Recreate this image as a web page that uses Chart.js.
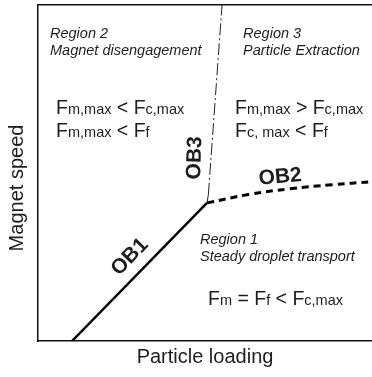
<!DOCTYPE html>
<html>
<head>
<meta charset="utf-8">
<script src="https://cdn.jsdelivr.net/npm/chart.js@4.4.1/dist/chart.umd.min.js"></script>
<style>
  html, body { margin: 0; padding: 0; background: #fff; }
  #wrap { width: 372px; height: 377px; }
</style>
</head>
<body>
<div id="wrap"><canvas id="chart"></canvas></div>
<script>
// operating boundaries, in (particle loading, magnet speed) units 0..10
const ob1X = [1.02, 5.06];
const ob1Y = [0, 4.11];
const ob2X = [5.06, 6.3, 7.54, 8.8, 10];
const ob2Y = [4.11, 4.36, 4.53, 4.65, 4.74];
const ob3X = [5.06, 5.1, 5.51];
const ob3Y = [4.11, 4.35, 10];

const boundaryNames = ['OB1', 'OB2', 'OB3'];
const regionTitles = ['Region 1', 'Region 2', 'Region 3'];
const regionNames = ['Steady droplet transport', 'Magnet disengagement', 'Particle Extraction'];
// _{...} marks the small subscript part
const regionConditions = [
  ['F_{m} = F_{f} < F_{c,max}'],
  ['F_{m,max} < F_{c,max}', 'F_{m,max} < F_{f}'],
  ['F_{m,max} > F_{c,max}', 'F_{c, max} < F_{f}']
];
const xTitle = 'Particle loading';
const yTitle = 'Magnet speed';

const FONT = '"Liberation Sans", Arial, sans-serif';
const TEXT = '#1e1e1e';

// where the labels sit (data units)
const regionLabelPos = [
  { x: 4.85, y: 2.89, condY: 1.07, condX: 5.09 },
  { x: 0.36, y: 9.02, condY: 6.76, condX: 0.54 },
  { x: 6.14, y: 9.02, condY: 6.76, condX: 5.90 }
];
const boundaryLabelPos = [
  { x: 2.75, y: 2.5, rot: -46 },
  { x: 7.25, y: 4.88, rot: -5 },
  { x: 4.70, y: 5.45, rot: -88 }
];

const toPoints = (xs, ys) => xs.map((x, i) => ({ x: x, y: ys[i] }));

function drawRich(ctx, str, x, y, bigPx, subPx) {
  const parts = str.split(/(_\{[^}]*\})/).filter(s => s.length);
  let cx = x;
  parts.forEach(p => {
    const sub = p.startsWith('_{');
    const t = sub ? p.slice(2, -1) : p;
    ctx.font = (sub ? subPx : bigPx) + 'px ' + FONT;
    ctx.fillText(t, cx, y);
    cx += ctx.measureText(t).width;
  });
}

const labelsPlugin = {
  id: 'phaseLabels',
  afterDatasetsDraw(chart) {
    const ctx = chart.ctx;
    const xs = chart.scales.x, ys = chart.scales.y;
    ctx.save();
    ctx.fillStyle = TEXT;
    ctx.textBaseline = 'alphabetic';
    ctx.textAlign = 'left';

    regionTitles.forEach((t, i) => {
      const p = regionLabelPos[i];
      const px = xs.getPixelForValue(p.x);
      const py = ys.getPixelForValue(p.y);
      ctx.font = 'italic 14.5px ' + FONT;
      ctx.fillText(t, px, py);
      ctx.fillText(regionNames[i], px, py + 17);
      const cx = xs.getPixelForValue(p.condX);
      let cy = ys.getPixelForValue(p.condY);
      regionConditions[i].forEach(line => {
        drawRich(ctx, line, cx, cy, 19.5, 14.5);
        cy += 23;
      });
    });

    ctx.textAlign = 'center';
    ctx.textBaseline = 'middle';
    ctx.font = 'bold 21px ' + FONT;
    boundaryNames.forEach((t, i) => {
      const p = boundaryLabelPos[i];
      ctx.save();
      ctx.translate(xs.getPixelForValue(p.x), ys.getPixelForValue(p.y));
      ctx.rotate(p.rot * Math.PI / 180);
      ctx.fillText(t, 0, 0);
      ctx.restore();
    });

    // y axis title, a bit below the middle as in the figure
    ctx.save();
    ctx.font = '20px ' + FONT;
    ctx.translate(17, (chart.chartArea.top + chart.chartArea.bottom) / 2 + 15);
    ctx.rotate(-Math.PI / 2);
    ctx.fillText(yTitle, 0, 0);
    ctx.restore();

    ctx.restore();
  }
};

const frameBorder = { display: true, color: '#111', width: 1.5 };

new Chart(document.getElementById('chart'), {
  type: 'scatter',
  data: {
    datasets: [
      {
        label: boundaryNames[0],
        data: toPoints(ob1X, ob1Y),
        showLine: true,
        borderColor: '#000',
        borderWidth: 2.5
      },
      {
        label: boundaryNames[1],
        data: toPoints(ob2X, ob2Y),
        showLine: true,
        tension: 0.4,
        borderColor: '#000',
        borderWidth: 3,
        borderDash: [7, 5]
      },
      {
        label: boundaryNames[2],
        data: toPoints(ob3X, ob3Y),
        showLine: true,
        borderColor: '#222',
        borderWidth: 1,
        segment: {
          borderDash: c => c.p0DataIndex === 0 ? [] : [12, 3, 2, 3]
        }
      }
    ]
  },
  options: {
    responsive: true,
    maintainAspectRatio: false,
    animation: false,
    layout: { padding: { top: 5, right: 0, left: 0, bottom: 0 } },
    elements: { point: { radius: 0, hoverRadius: 0 } },
    plugins: {
      legend: { display: false },
      tooltip: { enabled: false }
    },
    scales: {
      x: {
        type: 'linear',
        min: 0,
        max: 10,
        grid: { display: false },
        ticks: { display: false },
        border: frameBorder,
        title: {
          display: true,
          text: xTitle,
          color: TEXT,
          font: { family: FONT, size: 20 },
          padding: { top: 0, bottom: 8 }
        },
        afterFit: s => { s.height = 36; }
      },
      xTop: {
        type: 'linear',
        position: 'top',
        min: 0,
        max: 10,
        grid: { display: false },
        ticks: { display: false },
        border: frameBorder,
        afterFit: s => { s.height = 0; }
      },
      y: {
        type: 'linear',
        min: 0,
        max: 10,
        grid: { display: false },
        ticks: { display: false },
        border: frameBorder,
        afterFit: s => { s.width = 38; }
      }
    }
  },
  plugins: [labelsPlugin]
});
</script>
</body>
</html>
